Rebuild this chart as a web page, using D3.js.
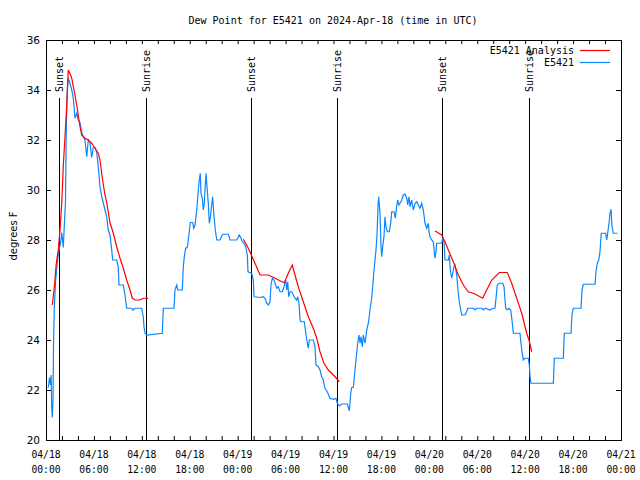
<!DOCTYPE html>
<html>
<head>
<meta charset="utf-8">
<script src="https://cdn.jsdelivr.net/npm/d3@7"></script>
<style>
  html, body { margin: 0; padding: 0; background: #fff; }
  svg { display: block; }
</style>
</head>
<body>
<svg id="chart" width="640" height="480"></svg>
<script>
// ---- data ----
const titleText = "Dew Point for E5421 on 2024-Apr-18 (time in UTC)";
const yLabel = "degrees F";
const startTime = "2024-04-18T00:00:00Z";
const endTime = "2024-04-21T00:00:00Z";
const yTicks = [20, 22, 24, 26, 28, 30, 32, 34, 36];
const xLabelHours = [0, 6, 12, 18, 24, 30, 36, 42, 48, 54, 60, 66, 72];
const xLabelDates = ["04/18","04/18","04/18","04/18","04/19","04/19","04/19","04/19","04/20","04/20","04/20","04/20","04/21"];
const xLabelTimes = ["00:00","06:00","12:00","18:00","00:00","06:00","12:00","18:00","00:00","06:00","12:00","18:00","00:00"];
const seriesNames = ["E5421 Analysis", "E5421"];

// sun events (hours after start)
const eventNames = ["Sunset","Sunrise","Sunset","Sunrise","Sunset","Sunrise"];
const eventHours = [1.6, 12.48, 25.63, 36.4, 49.63, 60.44];

// observed E5421 (hours after start, deg F)
const obsHours = [0.29,0.44,0.56,0.65,0.71,0.79,0.88,0.94,1.04,1.21,1.42,1.63,1.84,1.97,2.17,2.25,2.44,2.54,2.67,2.79,
3.0,3.22,3.42,3.63,3.84,4.04,4.26,4.47,4.67,4.88,5.1,5.3,5.51,5.72,5.92,6.14,6.35,6.55,6.76,6.97,
7.18,7.39,7.6,7.8,8.01,8.23,8.35,8.85,9.05,9.14,9.68,9.89,10.1,10.73,10.9,11.14,11.98,12.18,12.27,12.4,
12.65,14.56,14.69,16.03,16.15,16.37,16.49,17.07,17.19,17.32,17.49,17.69,17.82,17.94,18.07,18.37,18.5,18.66,18.78,18.91,
19.07,19.2,19.32,19.41,19.57,19.7,19.82,19.91,20.04,20.16,20.32,20.45,20.57,20.75,20.87,21.04,21.2,21.38,21.79,21.91,
22.13,22.83,23.04,23.88,24.04,24.2,24.38,24.58,24.79,25.01,25.21,25.29,25.76,25.96,26.05,26.8,27.21,27.42,27.64,27.84,
28.05,28.17,28.34,28.55,28.76,28.89,29.09,29.3,29.59,29.8,30.02,30.14,30.27,30.39,30.55,30.77,30.97,31.18,31.39,31.52,
31.68,31.81,31.93,32.34,32.65,32.85,32.97,33.47,33.68,33.81,34.1,34.31,34.52,34.72,34.94,35.22,35.56,35.98,36.31,36.48,
36.73,37.03,37.73,37.98,38.16,38.28,38.48,38.69,38.9,39.03,39.19,39.32,39.44,39.61,39.73,39.95,40.16,40.36,40.57,40.78,
40.91,41.04,41.2,41.32,41.45,41.57,41.66,41.82,41.95,42.04,42.16,42.32,42.45,42.57,42.74,42.99,43.16,43.29,43.58,43.74,
43.91,44.04,44.2,44.33,44.54,44.74,44.95,45.17,45.29,45.45,45.58,45.79,45.99,46.21,46.42,46.62,46.83,47.04,47.25,47.46,
47.67,47.87,47.96,48.08,48.29,48.5,48.71,48.84,48.92,49.55,49.67,49.84,49.96,50.38,50.5,50.63,50.8,50.93,51.09,51.22,
51.43,51.55,51.75,51.93,52.05,52.47,52.68,52.81,53.51,53.72,53.94,54.56,54.76,54.98,55.6,55.94,56.22,56.35,56.51,56.76,
57.19,57.35,57.56,57.76,57.98,58.19,58.35,58.52,59.35,59.48,59.6,59.77,59.98,60.39,60.52,60.61,60.73,63.53,63.65,64.78,
64.9,65.74,65.86,66.03,66.99,67.12,67.28,68.75,68.87,69.03,69.21,69.37,69.53,70.08,70.21,70.33,70.5,70.62,70.75,70.87,
71.04,71.54];
const obsValues = [22.1,22.5,22.2,22.6,21.3,20.9,21.6,23.8,25.3,26.4,27.1,27.6,27.9,28.3,27.7,28.3,29.5,32.5,34.0,34.47,
34.27,34.0,33.67,32.87,33.07,32.8,32.7,32.3,32.13,32.0,31.33,32.0,31.9,31.3,31.7,31.7,31.5,30.93,30.13,29.75,
29.47,29.2,28.93,28.4,28.2,27.6,27.2,27.2,26.93,26.2,26.2,25.8,25.27,25.27,25.2,25.27,25.27,24.93,24.53,24.27,
24.2,24.27,25.27,25.27,26.0,26.2,26.0,26.0,26.93,27.33,27.67,27.7,28.0,28.33,28.7,28.7,28.47,28.6,28.93,29.33,
30.0,30.4,30.67,29.87,29.67,29.2,29.47,30.0,30.67,30.13,29.47,28.67,28.87,29.4,29.73,28.93,28.4,28.0,28.0,28.1,
28.23,28.23,28.0,28.0,28.1,28.2,28.1,27.93,27.87,27.73,27.4,26.73,26.67,26.4,25.73,25.7,25.73,25.67,25.47,25.4,
25.53,26.2,26.47,26.4,26.2,26.07,26.13,25.93,25.93,26.13,26.4,26.0,26.33,25.73,25.93,25.93,25.8,25.67,25.6,25.73,
25.47,24.8,24.73,24.73,24.0,23.67,24.0,24.0,23.73,23.0,22.93,22.8,22.53,22.4,22.07,21.93,21.67,21.63,21.67,21.47,
21.36,21.44,21.44,21.17,21.87,22.1,22.1,22.8,23.47,23.87,24.2,23.87,24.13,23.73,24.2,23.87,24.4,24.67,25.2,25.67,
26.13,26.67,27.2,27.6,28.2,29.33,29.73,29.07,27.73,27.33,27.73,28.13,28.93,28.53,28.33,28.33,28.67,29.13,29.13,28.87,
29.33,29.6,29.4,29.47,29.6,29.8,29.84,29.67,29.4,29.73,29.33,29.6,29.2,29.47,29.53,29.4,29.27,29.47,29.2,28.67,
28.47,28.67,28.33,28.13,28.0,27.93,27.27,27.53,27.87,27.87,28.07,27.9,27.2,27.2,27.4,26.8,26.47,26.67,26.93,27.0,
26.6,26.13,25.53,25.2,25.0,25.0,25.13,25.27,25.27,25.2,25.27,25.27,25.2,25.27,25.2,25.27,25.27,25.67,26.2,26.27,
26.27,26.13,25.27,25.2,25.27,25.2,24.8,24.27,24.27,23.87,23.53,23.2,23.27,23.27,23.0,22.53,22.27,22.27,23.27,23.27,
24.27,24.27,25.0,25.27,25.27,26.0,26.23,26.23,26.73,27.07,27.2,27.53,28.27,28.27,28.0,28.27,28.67,29.07,29.23,28.53,
28.27,28.27];

// analysis E5421 (hours after start, deg F); null marks a gap
const anaHours = [0.79,1.0,1.13,1.21,1.34,1.54,1.75,1.97,2.17,2.38,2.59,2.79,3.01,3.22,3.42,3.63,3.84,4.04,4.26,4.47,
4.88,5.3,5.72,6.14,6.55,6.76,6.97,7.18,7.39,7.6,8.01,8.43,8.85,9.27,9.68,10.1,10.52,10.81,11.14,11.77,12.18,12.81,
18.0,
24.71,25.13,25.54,26.17,26.8,27.84,28.68,29.3,29.84,30.34,30.84,31.18,31.59,32.22,32.85,33.47,33.9,34.31,34.81,35.35,36.19,36.73,
42.0,
48.71,49.55,49.96,50.38,51.0,51.63,52.26,52.88,53.72,54.68,55.18,55.81,56.76,57.76,58.31,58.94,59.57,60.19,60.48,60.82];
const anaValues = [25.4,26.0,26.4,26.8,27.2,27.6,28.4,29.47,31.0,32.13,33.33,34.8,34.65,34.47,34.13,33.8,33.4,33.0,32.53,32.2,
32.07,32.0,31.87,31.67,31.47,31.2,30.67,30.2,29.8,29.5,28.7,28.27,27.73,27.27,26.87,26.4,26.0,25.67,25.6,25.6,25.67,25.67,
null,
28.03,27.8,27.53,27.07,26.6,26.6,26.47,26.37,26.29,26.67,27.0,26.6,26.13,25.53,24.93,24.47,24.07,23.53,23.07,22.8,22.53,22.33,
null,
28.36,28.2,27.93,27.6,27.13,26.6,26.2,25.93,25.84,25.67,26.0,26.4,26.7,26.7,26.27,25.67,25.07,24.27,24.0,23.53];

// ---- drawing ----
const colorAna = "#ff0000";
const colorObs = "#0a86ff";
const mLeft = 46, mRight = 621, mTop = 40, mBottom = 440;
const t0 = new Date(startTime).getTime();
const toDate = h => new Date(t0 + h * 3600e3);

const svg = d3.select("#chart");
const x = d3.scaleUtc().domain([new Date(startTime), new Date(endTime)]).range([mLeft, mRight]);
const y = d3.scaleLinear().domain([20, 36]).range([mBottom, mTop]);

const monoFont = "'DejaVu Sans Mono', 'Liberation Mono', monospace";
const sansFont = "'DejaVu Sans', 'Liberation Sans', sans-serif";

// title
svg.append("text").attr("x", 333).attr("y", 24).attr("text-anchor", "middle")
  .style("font-family", monoFont).style("font-size", "10px").text(titleText);

// y label
svg.append("text").attr("transform", "translate(13,236) rotate(-90)").attr("text-anchor", "middle")
  .attr("dy", "0.35em").style("font-family", sansFont).style("font-size", "10px").text(yLabel);

// ticks (inward, gnuplot style)
const xTickVals = d3.range(0, 73, 2).map(toDate);
const gB = svg.append("g").attr("transform", `translate(0,${mBottom})`)
  .call(d3.axisBottom(x).tickValues(xTickVals).tickSize(-4).tickFormat(""));
const gT = svg.append("g").attr("transform", `translate(0,${mTop})`)
  .call(d3.axisTop(x).tickValues(xTickVals).tickSize(-4).tickFormat(""));
const gL = svg.append("g").attr("transform", `translate(${mLeft},0)`)
  .call(d3.axisLeft(y).tickValues(yTicks).tickSize(-5).tickFormat(""));
const gR = svg.append("g").attr("transform", `translate(${mRight},0)`)
  .call(d3.axisRight(y).tickValues(yTicks).tickSize(-5).tickFormat(""));
[gB, gT, gL, gR].forEach(g => { g.select(".domain").remove(); g.selectAll("line").attr("stroke", "#000"); });

// y tick labels
svg.append("g").selectAll("text").data(yTicks).join("text")
  .attr("x", mLeft - 6).attr("y", d => y(d)).attr("dy", "0.35em").attr("text-anchor", "end")
  .style("font-family", sansFont).style("font-size", "10.5px").text(d => d);

// x tick labels (two lines)
const xl = svg.append("g").selectAll("text").data(xLabelHours).join("text")
  .attr("text-anchor", "middle").style("font-family", monoFont).style("font-size", "9.7px");
xl.append("tspan").attr("x", d => x(toDate(d))).attr("y", 458).text((d, i) => xLabelDates[i]);
xl.append("tspan").attr("x", d => x(toDate(d))).attr("y", 473).text((d, i) => xLabelTimes[i]);

// sun event lines
const ev = svg.append("g");
ev.selectAll("line").data(eventHours).join("line")
  .attr("x1", d => Math.round(x(toDate(d))) + 0.5).attr("x2", d => Math.round(x(toDate(d))) + 0.5)
  .attr("y1", 98).attr("y2", mBottom).attr("stroke", "#000").attr("stroke-width", 1);
ev.selectAll("text").data(eventHours).join("text")
  .attr("transform", d => `translate(${Math.round(x(toDate(d))) + 0.5},92) rotate(-90)`)
  .attr("dy", "0.35em").attr("text-anchor", "start")
  .style("font-family", monoFont).style("font-size", "10px").text((d, i) => eventNames[i]);

// lines
svg.append("clipPath").attr("id", "clip").append("rect")
  .attr("x", mLeft).attr("y", mTop).attr("width", mRight - mLeft).attr("height", mBottom - mTop);

const lineGen = d3.line().defined(d => d[1] !== null).x(d => x(toDate(d[0]))).y(d => y(d[1]));
const obsData = obsHours.map((h, i) => [h, obsValues[i]]);
const anaData = anaHours.map((h, i) => [h, anaValues[i]]);

svg.append("path").attr("clip-path", "url(#clip)").attr("d", lineGen(obsData))
  .attr("fill", "none").attr("stroke", colorObs).attr("stroke-width", 1.2);
svg.append("path").attr("clip-path", "url(#clip)").attr("d", lineGen(anaData))
  .attr("fill", "none").attr("stroke", colorAna).attr("stroke-width", 1.2);

// border
svg.append("rect").attr("x", mLeft + 0.5).attr("y", mTop + 0.5).attr("width", mRight - mLeft).attr("height", mBottom - mTop)
  .attr("fill", "none").attr("stroke", "#000").attr("stroke-width", 1);

// legend
const legY = [50, 62];
const legColors = [colorAna, colorObs];
const leg = svg.append("g");
seriesNames.forEach((name, i) => {
  leg.append("text").attr("x", 574).attr("y", legY[i]).attr("dy", "0.35em").attr("text-anchor", "end")
    .style("font-family", monoFont).style("font-size", "10px").text(name);
  leg.append("line").attr("x1", 580).attr("x2", 610).attr("y1", legY[i] + 0.5).attr("y2", legY[i] + 0.5)
    .attr("stroke", legColors[i]).attr("stroke-width", 1.2);
});
</script>
</body>
</html>
